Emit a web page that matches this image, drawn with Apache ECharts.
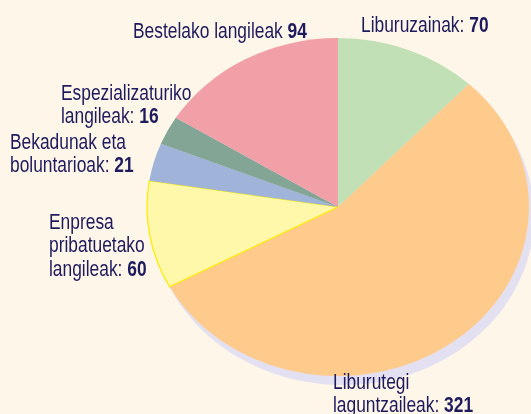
<!DOCTYPE html>
<html>
<head>
<meta charset="utf-8">
<script src="https://cdn.jsdelivr.net/npm/echarts@6/dist/echarts.min.js"></script>
<style>
  html, body { margin: 0; padding: 0; background: #FEF6E8; }
  #chart { width: 531px; height: 414px; }
</style>
</head>
<body>
<div id="chart"></div>
<script>
// datuak
const categories = [
  'Liburuzainak:',
  'Liburutegi\nlaguntzaileak:',
  'Enpresa\npribatuetako\nlangileak:',
  'Bekadunak eta\nboluntarioak:',
  'Espezializaturiko\nlangileak:',
  'Bestelako langileak'
];
const values = [70, 321, 60, 21, 16, 94];

const colors = ['#C2E0B5', '#FECB8C', '#FFF8AA', '#9FB4D8', '#82A596', '#F2A0A7'];
// label baseline of the first line: [left x, baseline y]
const labelPos = [[361, 32], [333, 389], [49, 229], [10, 149], [61, 100], [133, 38]];

const cx = 338, cy = 207, rx = 191, ry = 169;
const lineH = 23.5;
const fontFamily = '"Liberation Sans", Arial, sans-serif';
const textColor = '#1E1A5E';
const squeeze = 0.79; // condensed look

const total = values.reduce((a, b) => a + b, 0);
const cum = [];
let acc = 0;
values.forEach(v => { cum.push(acc); acc += v; });

// labels, one text per line, bold number on the last line
const labels = [];
categories.forEach((name, i) => {
  const lines = name.split('\n');
  lines.forEach((ln, j) => {
    const last = j === lines.length - 1;
    labels.push({
      type: 'text',
      z: 10,
      x: labelPos[i][0],
      y: labelPos[i][1] + j * lineH - 6.5,
      scaleX: squeeze,
      style: {
        text: last ? '{n|' + ln + ' }{b|' + values[i] + '}' : '{n|' + ln + '}',
        verticalAlign: 'middle',
        align: 'left',
        rich: {
          n: { font: '22px ' + fontFamily, fill: textColor },
          b: { font: 'bold 22px ' + fontFamily, fill: textColor }
        }
      }
    });
  });
});

const myChart = echarts.init(document.getElementById('chart'));

const option = {
  backgroundColor: '#FEF6E8',
  animation: false,
  graphic: [
    {
      type: 'ellipse',
      z: 0,
      shape: { cx: cx + 5, cy: cy + 9, rx: rx, ry: ry },
      style: { fill: '#E3E0F2' }
    }
  ].concat(labels),
  series: [
    {
      type: 'custom',
      coordinateSystem: 'none',
      z: 2,
      data: values,
      renderItem: function (params, api) {
        const i = params.dataIndex;
        const start = -Math.PI / 2 + 2 * Math.PI * cum[i] / total;
        const end = start + 2 * Math.PI * api.value(0) / total;
        return {
          type: 'sector',
          x: cx,
          y: cy,
          scaleY: ry / rx,
          shape: { cx: 0, cy: 0, r: rx, r0: 0, startAngle: start, endAngle: end, clockwise: true },
          style: {
            fill: colors[i],
            stroke: i === 2 ? '#FFEB00' : null,
            lineWidth: 1.2
          }
        };
      }
    }
  ]
};

myChart.setOption(option);
</script>
</body>
</html>
